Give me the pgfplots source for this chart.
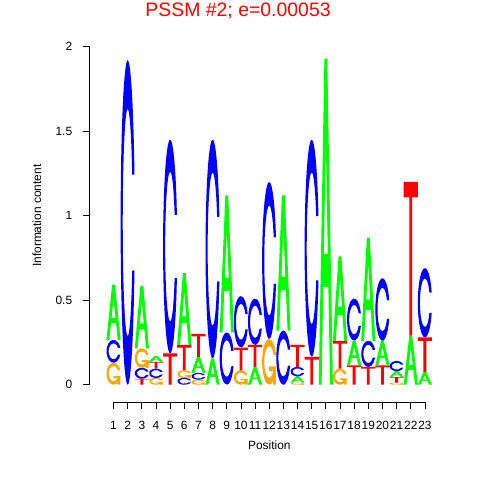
\documentclass[border=0pt]{standalone}
\usepackage{fontspec}
\setmainfont{Liberation Sans}
\usepackage{pgfplots}
\usepackage{pgfplotstable}
\pgfplotsset{compat=1.18}
\definecolor{colA}{RGB}{0,255,0}
\definecolor{colC}{RGB}{0,0,255}
\definecolor{colG}{RGB}{255,165,0}
\definecolor{colT}{RGB}{255,0,0}
% letter shapes in the unit square
\def\drawA{\fill[draw=none,fill=colA,even odd rule] (0,0) -- (0.4,1) -- (0.6,1) -- (1,0) -- (0.8,0) -- (0.68,0.3) -- (0.32,0.3) -- (0.2,0) -- cycle (0.36,0.4) -- (0.5,0.75) -- (0.64,0.4) -- cycle;}
\def\drawT{\fill[draw=none,fill=colT] (0,1) -- (1,1) -- (1,0.9) -- (0.6,0.9) -- (0.6,0) -- (0.4,0) -- (0.4,0.9) -- (0,0.9) -- cycle;}
\def\Cring#1{\fill[draw=none,fill=#1] (0.97775,0.35224) arc[start angle=-17.19, end angle=-342.81, radius=0.5] -- (0.81710,0.64776) arc[start angle=25.02, end angle=334.98, radius=0.35] -- cycle;}
\def\drawC{\Cring{colC}}
\def\drawG{\Cring{colG}\fill[draw=none,fill=colG] (0.97775,0.4) -- (0.5,0.4) -- (0.5,0.3) -- (0.77775,0.3) -- (0.77775,0) -- (0.97775,0) -- cycle;}
\newcommand\logoletter[2]{%
  \pgfmathsetlengthmacro\hh{#1*170.286pt}%
  \pgfmathtruncatemacro\lc{#2}%
  \tikz[x=14.263pt, y=\hh]{\path[draw=none,fill=none,use as bounding box] (0,0) rectangle (1,1);
    \ifcase\lc\or\drawA\or\drawC\or\drawG\or\drawT\fi}%
}
% c: 1 = A, 2 = C, 3 = G, 4 = T
\pgfplotstableread{
x y h c l
1 0 0.13 3 G
1 0.13 0.135 2 C
1 0.265 0.325 1 A
2 0 1.92 2 C
3 0 0.035 4 T
3 0.035 0.065 2 C
3 0.10 0.115 3 G
3 0.215 0.37 1 A
4 0 0.04 3 G
4 0.04 0.055 2 C
4 0.095 0.04 4 T
4 0.135 0.035 1 A
5 0 0.185 4 T
5 0.185 1.265 2 C
6 0 0.04 2 C
6 0.04 0.045 3 G
6 0.085 0.15 4 T
6 0.235 0.425 1 A
7 0 0.03 3 G
7 0.03 0.04 2 C
7 0.07 0.095 1 A
7 0.165 0.135 4 T
8 0 0.155 1 A
8 0.155 1.295 2 C
9 0 0.31 2 C
9 0.31 0.81 1 A
10 0 0.085 3 G
10 0.085 0.135 4 T
10 0.22 0.305 2 C
11 0 0.105 1 A
11 0.105 0.13 4 T
11 0.235 0.275 2 C
12 0 0.27 3 G
12 0.27 0.93 2 C
13 0 0.32 2 C
13 0.32 0.80 1 A
14 0 0.012 3 G
14 0.012 0.038 1 A
14 0.05 0.055 2 C
14 0.105 0.13 4 T
15 0 0.165 4 T
15 0.165 1.285 2 C
16 0 1.93 1 A
17 0 0.095 3 G
17 0.095 0.165 4 T
17 0.26 0.50 1 A
18 0 0.115 4 T
18 0.115 0.145 1 A
18 0.26 0.25 2 C
19 0 0.105 4 T
19 0.105 0.155 2 C
19 0.26 0.61 1 A
20 0 0.114 4 T
20 0.114 0.146 1 A
20 0.26 0.37 2 C
21 0 0.012 3 G
21 0.012 0.033 4 T
21 0.045 0.035 1 A
21 0.08 0.06 2 C
22 0 0.29 1 A
22 0.29 0.91 4 T
23 0 0.075 1 A
23 0.075 0.205 4 T
23 0.28 0.41 2 C
}\logodata
\begin{document}
\begin{tikzpicture}
\begin{axis}[
  x=14.21bp, y=169.65bp,
  xmin=-0.689, xmax=23, ymin=-0.1026, ymax=2,
  clip=false,
  axis x line*=bottom, axis y line*=left,
  x axis line style={shorten <=24bp},
  y axis line style={shorten <=17.4bp},
  axis line style={line width=0.75bp, black},
  xtick={1,...,23}, ytick={0,0.5,1,1.5,2},
  tick align=outside, major tick length=7bp,
  tick style={line width=0.75bp, black},
  /pgf/number format/assume math mode=true,
  xticklabel style={font=\fontsize{12bp}{14bp}\selectfont, yshift=-8.5bp},
  yticklabel style={font=\fontsize{12bp}{14bp}\selectfont, xshift=-7bp},
  ylabel={Information content},
  xlabel={Position},
  every axis y label/.style={at={(rel axis cs:-0.1575,0.5244)}, rotate=90, anchor=center, font=\fontsize{12bp}{14bp}\selectfont},
  every axis x label/.style={at={(rel axis cs:0.5361,0)}, anchor=base, yshift=-47.3bp, font=\fontsize{12bp}{14bp}\selectfont},
  title={PSSM \#2; e=0.00053},
  every axis title/.style={at={(rel axis cs:0.4427,1.0841)}, anchor=base, text=red, font=\fontsize{19.5bp}{22bp}\selectfont},
]
\addplot[only marks, mark=none,
  visualization depends on={\thisrow{h}\as\hval},
  visualization depends on={\thisrow{c}\as\lcode},
  nodes near coords={\logoletter{\hval}{\lcode}},
  every node near coord/.style={anchor=south, inner sep=0pt, outer sep=0pt},
] table[x=x, y=y] {\logodata};
\path (axis cs:-7.0225,-0.5641) rectangle (axis cs:26.757,2.2653);
\end{axis}
\end{tikzpicture}
\end{document}
